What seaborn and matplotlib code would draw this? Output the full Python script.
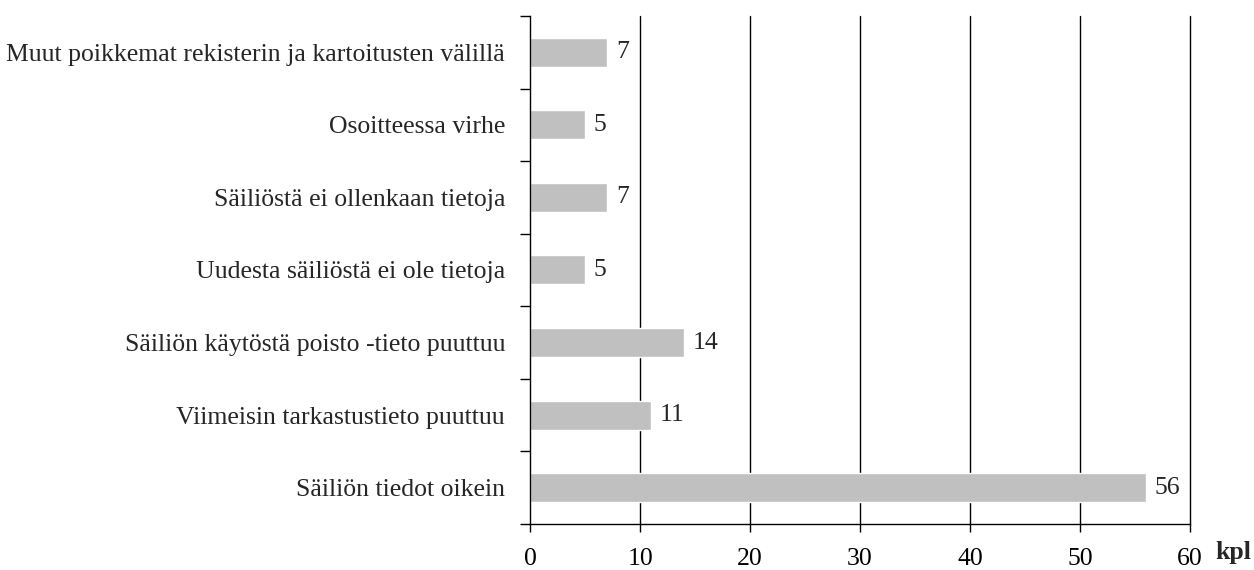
import matplotlib
matplotlib.use('Agg')
import matplotlib.pyplot as plt
import seaborn as sns
import pandas as pd
import numpy as np

# data, top to bottom
kategoriat = [
    'Muut poikkemat rekisterin ja kartoitusten välillä',
    'Osoitteessa virhe',
    'Säiliöstä ei ollenkaan tietoja',
    'Uudesta säiliöstä ei ole tietoja',
    'Säiliön käytöstä poisto -tieto puuttuu',
    'Viimeisin tarkastustieto puuttuu',
    'Säiliön tiedot oikein',
]
arvot = [7, 5, 7, 5, 14, 11, 56]
x_ticks = [0, 10, 20, 30, 40, 50, 60]

df = pd.DataFrame({'kategoria': kategoriat, 'kpl': arvot})

sns.set_style('white')
plt.rcParams['font.family'] = ['Liberation Serif', 'DejaVu Serif']
fs = 18.5

fig = plt.figure(figsize=(12.54, 5.7), dpi=100)
ax = fig.add_axes([0.4227, 0.0807, 0.949 - 0.4227, 0.972 - 0.0807])

sns.barplot(data=df, y='kategoria', x='kpl', orient='h', color='#c0c0c0',
            width=0.4, ax=ax, saturation=1)

ax.set_xlim(0, 60)
ax.set_ylim(len(kategoriat) - 0.5, -0.5)
ax.set_xticks(x_ticks)
ax.set_xticklabels([str(t) for t in x_ticks], fontsize=fs)
ax.tick_params(axis='x', bottom=True, direction='out', length=6, width=1, pad=11, colors='black')
ax.tick_params(axis='y', which='major', left=True, length=0, pad=18, labelsize=fs)
ax.set_yticks(np.arange(-0.5, len(kategoriat)), minor=True)
ax.tick_params(axis='y', which='minor', left=True, direction='out', length=7, width=1, color='black')
ax.set_xlabel('')
ax.set_ylabel('')

for t in x_ticks[1:]:
    ax.axvline(t, color='black', lw=1, zorder=0, clip_on=False)

for sp in ['top', 'right']:
    ax.spines[sp].set_visible(False)
for sp in ['left', 'bottom']:
    ax.spines[sp].set_color('black')
    ax.spines[sp].set_linewidth(1)

for i, v in enumerate(arvot):
    ax.text(v + 0.8, i, str(v), va='center', ha='left', fontsize=fs)

ax.annotate('kpl', xy=(62.3, 0), xycoords=('data', 'axes fraction'),
            xytext=(0, -12), textcoords='offset points',
            fontsize=fs, fontweight='bold', ha='left', va='top', annotation_clip=False)

fig.savefig('out.png', dpi=100)
